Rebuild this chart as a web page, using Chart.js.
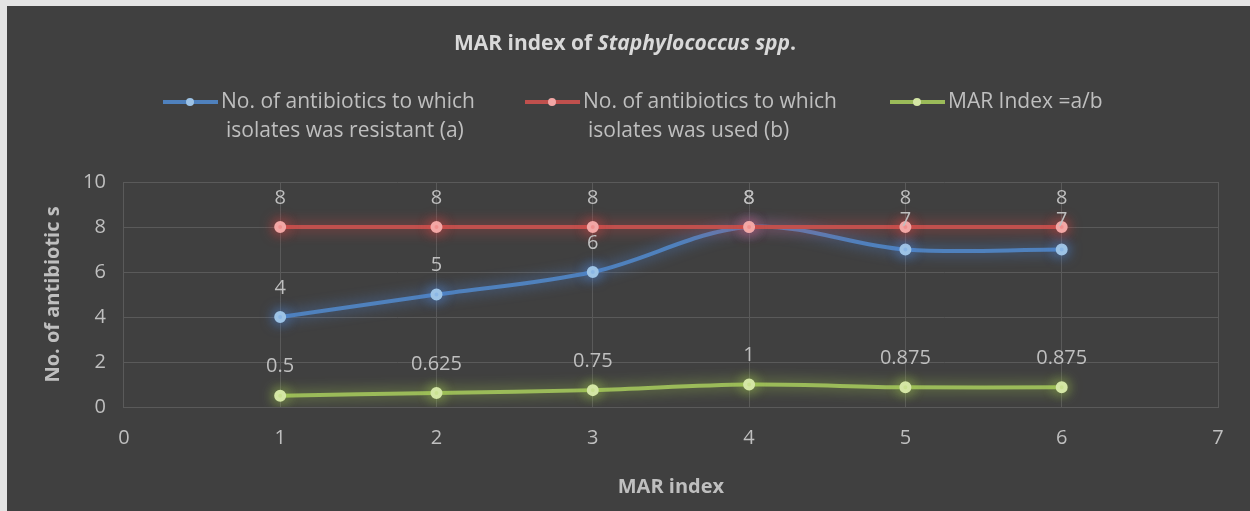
<!DOCTYPE html>
<html>
<head>
<meta charset="utf-8">
<script src="https://cdn.jsdelivr.net/npm/chart.js@4/dist/chart.umd.min.js"></script>
<style>
  html, body { margin: 0; padding: 0; background: #e4e4e4; overflow: hidden; }
  #wrap { position: absolute; left: 7px; top: 6px; width: 1243px; height: 505px; background: #404040; }
</style>
</head>
<body>
<div id="wrap"><canvas id="chart" width="1243" height="505"></canvas></div>
<script>
// Data
const marX = [1, 2, 3, 4, 5, 6];
const resistantA = [4, 5, 6, 8, 7, 7];
const usedB = [8, 8, 8, 8, 8, 8];
const marIndex = [0.5, 0.625, 0.75, 1, 0.875, 0.875];
const seriesNames = [
    ['No. of antibiotics to which', 'isolates was resistant (a)'],
    ['No. of antibiotics to which', 'isolates was used (b)'],
    ['MAR Index =a/b']
];

const FONT = '"Open Sans", "Noto Sans", sans-serif';
const textColor = '#bfbfbf';

const blue = '#4f81bd';
const red = '#c0504d';
const green = '#9bbb59';

function toPoints(values) {
    return marX.map((x, i) => ({ x: x, y: values[i] }));
}

// soft glow under each series, like the Excel effect
const glowPlugin = {
    id: 'glow',
    beforeDatasetDraw(chart, args) {
        const ds = chart.data.datasets[args.index];
        chart.ctx.save();
        chart.ctx.shadowColor = ds.glowColor;
        chart.ctx.shadowBlur = 14;
    },
    afterDatasetDraw(chart) {
        chart.ctx.restore();
    }
};

// value labels above every point
const valueLabels = {
    id: 'valueLabels',
    afterDatasetsDraw(chart) {
        const ctx = chart.ctx;
        ctx.save();
        ctx.font = '20px ' + FONT;
        ctx.fillStyle = textColor;
        ctx.textAlign = 'center';
        ctx.textBaseline = 'middle';
        chart.data.datasets.forEach((ds, i) => {
            chart.getDatasetMeta(i).data.forEach((pt, j) => {
                ctx.fillText(String(ds.data[j].y), pt.x, pt.y - 29);
            });
        });
        ctx.restore();
    }
};

// title with italic genus name, plus two-line legend
const header = {
    id: 'header',
    afterDraw(chart) {
        const ctx = chart.ctx;
        ctx.save();
        ctx.fillStyle = '#d9d9d9';
        ctx.textBaseline = 'middle';
        const parts = [
            ['bold 21px ' + FONT, 'MAR index of '],
            ['bold italic 21px ' + FONT, 'Staphylococcus spp'],
            ['bold 21px ' + FONT, '.']
        ];
        let total = 0;
        parts.forEach(p => { ctx.font = p[0]; total += ctx.measureText(p[1]).width; });
        let x = 618 - total / 2;
        parts.forEach(p => {
            ctx.font = p[0];
            ctx.textAlign = 'left';
            ctx.fillText(p[1], x, 38);
            x += ctx.measureText(p[1]).width;
        });

        const legendX = [156, 518, 883];
        const colors = [blue, red, green];
        const pointFill = ['#9dc3e6', '#f2a7a5', '#d4e6a5'];
        ctx.font = '21px ' + FONT;
        ctx.fillStyle = textColor;
        seriesNames.forEach((lines, i) => {
            const lx = legendX[i];
            const ly = 96;
            ctx.strokeStyle = colors[i];
            ctx.lineWidth = 4;
            ctx.beginPath();
            ctx.moveTo(lx, ly);
            ctx.lineTo(lx + 55, ly);
            ctx.stroke();
            ctx.fillStyle = pointFill[i];
            ctx.beginPath();
            ctx.arc(lx + 27, ly, 4, 0, Math.PI * 2);
            ctx.fill();
            ctx.fillStyle = textColor;
            ctx.textAlign = 'left';
            lines.forEach((line, k) => {
                ctx.fillText(line, lx + 58 + (k > 0 ? 5 : 0), ly + k * 29);
            });
        });
        ctx.restore();
    }
};

function series(values, color, pointColor, glow, tension) {
    return {
        data: toPoints(values),
        borderColor: color,
        backgroundColor: color,
        pointBackgroundColor: pointColor,
        pointBorderColor: pointColor,
        pointRadius: 4,
        borderWidth: 4,
        tension: tension,
        glowColor: glow,
        fill: false
    };
}

new Chart(document.getElementById('chart'), {
    type: 'line',
    data: {
        datasets: [
            series(usedB, red, '#f2a7a5', 'rgba(230,70,70,0.8)', 0),
            series(resistantA, blue, '#9dc3e6', 'rgba(80,140,230,0.8)', 0.35),
            series(marIndex, green, '#d4e6a5', 'rgba(170,210,80,0.8)', 0.35)
        ]
    },
    options: {
        responsive: false,
        animation: false,
        layout: { padding: { top: 176, right: 32, bottom: 8, left: 30 } },
        plugins: {
            legend: { display: false },
            tooltip: { enabled: false }
        },
        scales: {
            x: {
                type: 'linear',
                min: 0,
                max: 7,
                ticks: { stepSize: 1, color: textColor, font: { size: 20, family: FONT }, padding: 19 },
                grid: { color: '#5a5a5a', lineWidth: 1, drawTicks: false },
                border: { color: '#5a5a5a' },
                title: { display: true, text: 'MAR index', color: textColor, font: { size: 20, weight: 'bold', family: FONT }, padding: { top: 6 } }
            },
            y: {
                min: 0,
                max: 10,
                ticks: { stepSize: 2, color: textColor, font: { size: 20, family: FONT }, padding: 18 },
                grid: { color: '#5a5a5a', lineWidth: 1, drawTicks: false },
                border: { color: '#5a5a5a' },
                title: { display: true, text: 'No. of antibiotic s', color: textColor, font: { size: 20, weight: 'bold', family: FONT }, padding: { bottom: 0 } }
            }
        }
    },
    plugins: [glowPlugin, valueLabels, header]
});
</script>
</body>
</html>
